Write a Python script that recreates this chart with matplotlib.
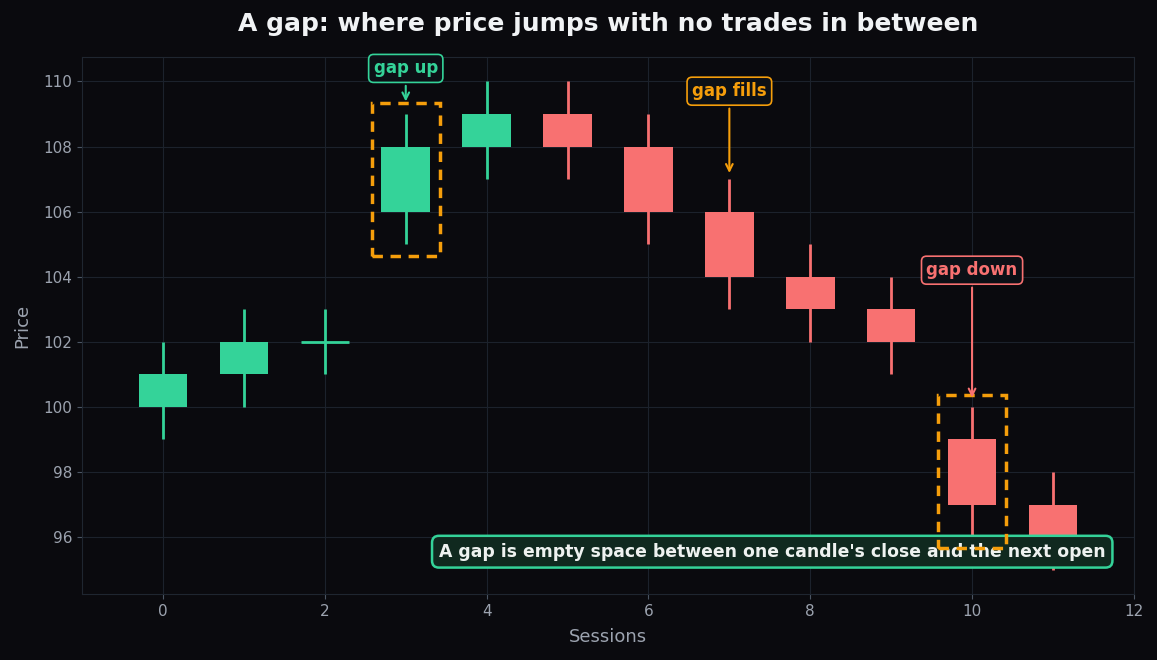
import matplotlib.pyplot as plt
import numpy as np
from matplotlib.patches import Rectangle

sessions = np.arange(12)
opens = [100, 101, 102, 106, 108, 109, 108, 106, 104, 103, 99, 97]
closes = [101, 102, 102, 108, 109, 108, 106, 104, 103, 102, 97, 96]
highs = [102, 103, 103, 109, 110, 110, 109, 107, 105, 104, 100, 98]
lows = [99, 100, 101, 105, 107, 107, 105, 103, 102, 101, 96, 95]

gap_sessions = [3, 10]

BG = '#0a0a0e'
GRID = '#1c222c'
TXT = '#9ca3af'
GREEN = '#34d399'
RED = '#f87171'
ORANGE = '#f59e0b'

fig = plt.figure(figsize=(11.57, 6.6), dpi=100, facecolor=BG)
ax = fig.add_axes([0.071, 0.1, 0.909, 0.8136])
ax.set_facecolor(BG)

width = 0.6
for x, o, c, h, l in zip(sessions, opens, closes, highs, lows):
  col = GREEN if c >= o else RED
  ax.vlines(x, l, h, color=col, linewidth=2, zorder=3)
  if c == o:
    ax.hlines(o, x - width / 2, x + width / 2, color=col, linewidth=2, zorder=3)
  else:
    ax.bar(x, abs(c - o), width, bottom=min(o, c), color=col, zorder=3)

for g in gap_sessions:
  pad = 0.35
  ax.add_patch(Rectangle((g - 0.42, lows[g] - pad), 0.84, highs[g] - lows[g] + 2 * pad,
                         fill=False, edgecolor=ORANGE, linewidth=2.5, linestyle=(0, (3, 2.2)), zorder=5))

def label(text, xy, xytext, col):
  ax.annotate(text, xy=xy, xytext=xytext, ha='center', va='center', color=col,
              fontsize=12, fontweight='bold', zorder=6,
              bbox=dict(boxstyle='round,pad=0.3', facecolor='#0c1016', edgecolor=col, linewidth=1.2),
              arrowprops=dict(arrowstyle='->', color=col, linewidth=1.5))

label('gap up', (3, highs[3] + 0.3), (3, 110.4), GREEN)
label('gap fills', (7, 107.1), (7, 109.7), ORANGE)
label('gap down', (10, highs[10] + 0.2), (10, 104.2), RED)

ax.text(7.53, 95.55, "A gap is empty space between one candle's close and the next open",
        ha='center', va='center', color='#eef2f0', fontsize=12.4, fontweight='bold', zorder=4,
        bbox=dict(boxstyle='round,pad=0.4', facecolor='#10291f', edgecolor=GREEN, linewidth=1.8))

ax.set_xlim(-1, 12)
ax.set_ylim(94.25, 110.75)
ax.set_xticks(np.arange(0, 13, 2))
ax.set_yticks(np.arange(96, 111, 2))
ax.grid(True, color=GRID, linewidth=0.8, zorder=0)
ax.set_axisbelow(True)
ax.tick_params(labelcolor=TXT, color='#4b5563', labelsize=11)
for s in ax.spines.values():
  s.set_color('#1f2630')
ax.set_xlabel('Sessions', color=TXT, fontsize=13, labelpad=7)
ax.set_ylabel('Price', color=TXT, fontsize=13, labelpad=9)
ax.set_title('A gap: where price jumps with no trades in between', color='#f1f3f5',
             fontsize=18, fontweight='bold', pad=19)

plt.savefig('out.png', dpi=100, facecolor=BG)
